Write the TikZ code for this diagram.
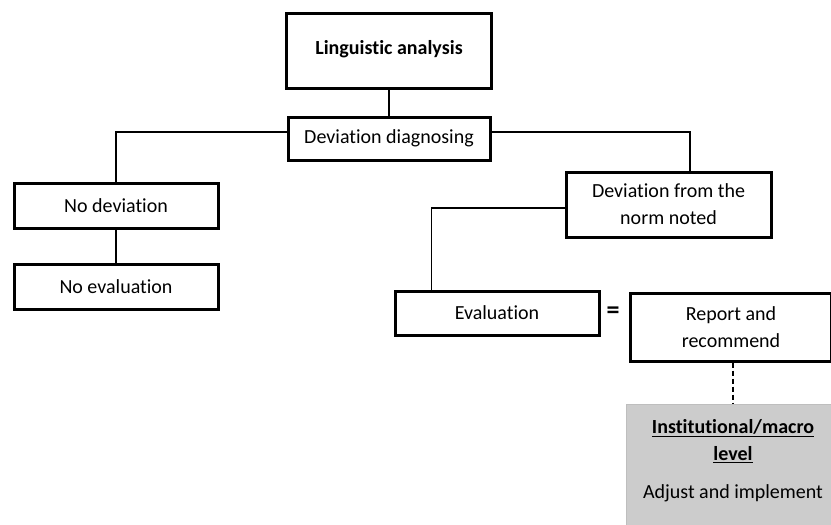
\documentclass[tikz,border=0pt]{standalone}
\usepackage{fontspec}
\setmainfont{Carlito}[Ligatures={NoCommon}]
\usetikzlibrary{calc}
\definecolor{graybox}{RGB}{204,204,204}
\definecolor{grayedge}{RGB}{190,190,190}
\tikzset{
  boxnode/.style={draw=black, line width=3pt, fill=white, inner sep=0pt, align=center,
    font=\fontsize{20}{27}\selectfont},
  conn/.style={draw=black, line width=1.8pt},
  dashconn/.style={draw=black, line width=2.4pt, dash pattern=on 5pt off 3pt},
}
\begin{document}
\begin{tikzpicture}[x=1pt,y=-1pt]
\useasboundingbox (0,0) rectangle (831,525);
% nodes
\node[boxnode, minimum width=205pt, minimum height=75pt] (ling) at (389,50.5)
  {\raisebox{7pt}{\bfseries Linguistic analysis}};
\node[boxnode, minimum width=202pt, minimum height=43pt] (diag) at (389,138.5) {Deviation diagnosing};
\node[boxnode, minimum width=204pt, minimum height=45pt] (nodev) at (116,205.5) {No deviation};
\node[boxnode, minimum width=204pt, minimum height=45pt] (noeval) at (116,286.5) {No evaluation};
\node[boxnode, minimum width=205pt, minimum height=65pt] (norm) at (668.5,204.5) {Deviation from the\\norm noted};
\node[boxnode, minimum width=204pt, minimum height=44pt] (eval) at (497,313) {Evaluation};
\node[font=\bfseries\fontsize{26}{28}\selectfont, inner sep=0pt] (eq) at (613,313) {=};
\node[boxnode, minimum width=201pt, minimum height=68pt] (report) at (731,327) {Report and\\recommend};
\node[draw=grayedge, line width=0.8pt, fill=graybox, minimum width=206pt, minimum height=124pt,
  inner sep=0pt, anchor=north west] (macro) at (625.5,403.5) {};
\node[font=\bfseries\fontsize{20}{27}\selectfont, align=center] (macrot) at (733,441)
  {\underline{Institutional/macro}\\\underline{level}};
\node[font=\fontsize{20}{24}\selectfont, inner sep=0pt] (adjust) at (733,493) {Adjust and implement};
% connectors
\draw[conn] (ling.south) -- (diag.north);
\draw[conn] ($(diag.west)+(0,-6.5)$) -| (nodev.north);
\draw[conn] (nodev.south) -- (noeval.north);
\draw[conn] ($(diag.east)+(0,-6.5)$) -| ($(norm.north)+(21.5,0)$);
\draw[conn] ($(norm.west)+(0,3.5)$) -| ($(eval.north west)+(38,0)$);
\draw[dashconn] ($(report.south)+(2,0)$) -- ($(macro.north west)+(107.5,0)$);
\end{tikzpicture}
\end{document}
